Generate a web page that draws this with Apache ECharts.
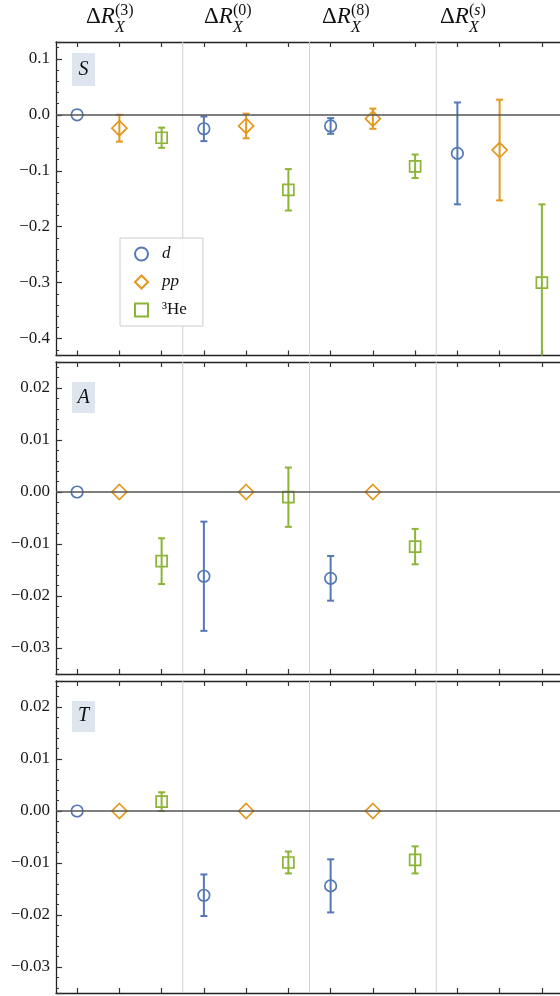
<!DOCTYPE html>
<html><head><meta charset="utf-8">
<script src="https://cdn.jsdelivr.net/npm/echarts@6/dist/echarts.min.js"></script>
<style>html,body{margin:0;padding:0;background:#fff;overflow:hidden;width:560px;height:996px}#c{width:566px;height:996px}</style>
</head><body><div id="c"></div>
<script>
// ---- data ----
const groupSup = ['3', '0', '8', 's'];          // ΔR_X^(…)
const species = ['d', 'pp', '3He'];
const panelNames = ['S', 'A', 'T'];

// S panel (index = operator group 0..3)
const S_d      = [0, -0.025, -0.020, -0.069];
const S_d_err  = [0, 0.022, 0.014, 0.091];
const S_pp     = [-0.024, -0.020, -0.007, -0.063];
const S_pp_err = [0.024, 0.022, 0.018, 0.090];
const S_he     = [-0.041, -0.134, -0.092, -0.300];
const S_he_err = [0.018, 0.037, 0.021, 0.140];
// A panel
const A_d      = [0, -0.0162, -0.0166, null];
const A_d_err  = [0, 0.0105, 0.0043, null];
const A_pp     = [0, 0, 0, null];
const A_pp_err = [0, 0, 0, null];
const A_he     = [-0.0133, -0.0010, -0.0105, null];
const A_he_err = [0.0044, 0.0057, 0.0034, null];
// T panel
const T_d      = [0, -0.0162, -0.0144, null];
const T_d_err  = [0, 0.0040, 0.0051, null];
const T_pp     = [0, 0, 0, null];
const T_pp_err = [0, 0, 0, null];
const T_he     = [0.0018, -0.0099, -0.0094, null];
const T_he_err = [0.0018, 0.0021, 0.0026, null];

const yRangeS  = [-0.43, 0.13];
const yRangeAT = [-0.035, 0.025];
const yStepS = 0.1, yStepAT = 0.01;
const yDecS = 1, yDecAT = 2;

// ---- style ----
const FONT = 'Liberation Serif';
const colors = ['#5478b6', '#e4981f', '#8ab536'];
const symbols = ['circle', 'diamond', 'rect'];
const symSizes = [11.5, 15, 11];

const xCategories = [];
groupSup.forEach(g => species.forEach(s => xCategories.push(g + ':' + s)));

const panelData = [
  [[S_d, S_d_err], [S_pp, S_pp_err], [S_he, S_he_err]],
  [[A_d, A_d_err], [A_pp, A_pp_err], [A_he, A_he_err]],
  [[T_d, T_d_err], [T_pp, T_pp_err], [T_he, T_he_err]]
];
const ranges = [yRangeS, yRangeAT, yRangeAT];
const steps = [yStepS, yStepAT, yStepAT];
const decs = [yDecS, yDecAT, yDecAT];

const grids = [
  {left: 56, top: 42, width: 507, height: 313.5},
  {left: 56, top: 362, width: 507, height: 312},
  {left: 56, top: 681, width: 507, height: 312}
];

const xAxes = [], yAxes = [], series = [];
function xAx(p, pos) {
  return {
    type: 'category', gridIndex: p, data: xCategories, position: pos, boundaryGap: true,
    axisLine: {show: true, onZero: false, lineStyle: {color: '#222', width: 1.3}},
    axisTick: {show: true, inside: true, alignWithLabel: true, interval: 0, length: 5, lineStyle: {color: '#333', width: 1.2}},
    axisLabel: {show: false, interval: 0}, splitLine: {show: false}
  };
}
for (let p = 0; p < 3; p++) {
  xAxes.push(xAx(p, 'bottom'));
  xAxes.push(xAx(p, 'top'));
  const step = steps[p], dec = decs[p];
  yAxes.push({
    type: 'value', gridIndex: p, min: ranges[p][0], max: ranges[p][1], position: 'left',
    axisLine: {show: true, onZero: false, lineStyle: {color: '#222', width: 1.3}},
    axisTick: {show: true, inside: true, length: 6, lineStyle: {color: '#333', width: 1.2}},
    minorTick: {show: true, splitNumber: 5, length: 3, lineStyle: {color: '#333', width: 1}},
    splitLine: {show: false},
    axisLabel: {
      fontFamily: FONT, fontSize: 17, color: '#1a1a1a', margin: 6,
      formatter: v => {
        const r = v / step;
        if (Math.abs(r - Math.round(r)) > 1e-6) return '';
        const s = Math.abs(v).toFixed(dec);
        return (v < -1e-9 ? '\u2212' : '') + s;
      }
    }
  });

  // separators between operator groups
  series.push({
    type: 'custom', xAxisIndex: p * 2, yAxisIndex: p, z: 1, silent: true,
    data: [[2], [5], [8]],
    encode: {x: 0},
    renderItem(params, api) {
      const i = api.value(0);
      const cs = params.coordSys;
      const x = (api.coord([i, 0])[0] + api.coord([i + 1, 0])[0]) / 2;
      return {type: 'line', shape: {x1: x, y1: cs.y, x2: x, y2: cs.y + cs.height},
        style: {stroke: '#cfcfcf', lineWidth: 1}};
    }
  });

  for (let s = 0; s < 3; s++) {
    const [vals, errs] = panelData[p][s];
    const pts = [], bars = [];
    vals.forEach((v, g) => {
      if (v === null) return;
      pts.push([g * 3 + s, v]);
      if (errs[g] > 0) bars.push([g * 3 + s, v, errs[g]]);
    });
    const col = colors[s];
    series.push({
      type: 'custom', xAxisIndex: p * 2, yAxisIndex: p, z: 3, silent: true,
      data: bars, encode: {x: 0, y: 1},
      renderItem(params, api) {
        const cs = params.coordSys;
        const x = api.value(0), y = api.value(1), e = api.value(2);
        const t = api.coord([x, y + e]), b = api.coord([x, y - e]);
        const cw = 3.5;
        const ch = [];
        const yt = Math.max(t[1], cs.y), yb = Math.min(b[1], cs.y + cs.height);
        ch.push({type: 'line', shape: {x1: t[0], y1: yt, x2: t[0], y2: yb}, style: {stroke: col, lineWidth: 2}});
        if (t[1] >= cs.y) ch.push({type: 'line', shape: {x1: t[0] - cw, y1: t[1], x2: t[0] + cw, y2: t[1]}, style: {stroke: col, lineWidth: 2}});
        if (b[1] <= cs.y + cs.height) ch.push({type: 'line', shape: {x1: b[0] - cw, y1: b[1], x2: b[0] + cw, y2: b[1]}, style: {stroke: col, lineWidth: 2}});
        return {type: 'group', children: ch};
      }
    });
    const sc = {
      type: 'scatter', name: species[s], xAxisIndex: p * 2, yAxisIndex: p, z: 4,
      symbol: symbols[s], symbolSize: symSizes[s], data: pts, silent: true,
      itemStyle: {color: 'rgba(255,255,255,0)', borderColor: col, borderWidth: 1.7, opacity: 1},
      emphasis: {disabled: true}
    };
    if (s === 0) {
      sc.markLine = {
        silent: true, symbol: ['none', 'none'], label: {show: false}, animation: false,
        lineStyle: {color: '#555', width: 1.5, type: 'solid'},
        emphasis: {disabled: true},
        data: [{yAxis: 0}]
      };
    }
    series.push(sc);
  }
}

// titles and panel labels (text layout)
const graphic = [];
const titleLeft = [86, 204, 322, 440];
groupSup.forEach((g, i) => {
  const x = titleLeft[i];
  graphic.push({type: 'text', left: x, top: 5, style: {
    text: '{a|\u0394}{b|R}', rich: {a: {fontFamily: FONT, fontSize: 23, fill: '#111'}, b: {fontFamily: FONT, fontSize: 23, fontStyle: 'italic', fill: '#111'}}}});
  graphic.push({type: 'text', left: x + 29, top: 20, style: {text: 'X', fontFamily: FONT, fontSize: 16, fontStyle: 'italic', fill: '#111'}});
  const supTxt = g === 's' ? '({i|s})' : '(' + g + ')';
  graphic.push({type: 'text', left: x + 29, top: 3, style: {text: supTxt, fontFamily: FONT, fontSize: 16, fill: '#111',
    rich: {i: {fontFamily: FONT, fontSize: 16, fontStyle: 'italic', fill: '#111'}}}});
});
const labelBoxes = [[72, 53, 33, 70], [72, 382, 31, 397.5], [72, 701, 31, 716]];
panelNames.forEach((n, i) => {
  const [bx, by, bh, ty] = labelBoxes[i];
  graphic.push({type: 'rect', shape: {x: bx, y: by, width: 23, height: bh}, style: {fill: '#dfe5ef'}, z: 5});
  graphic.push({type: 'text', x: bx + 11.5, y: ty, z: 6, style: {text: n, fontFamily: FONT, fontSize: 20, fontStyle: 'italic',
    fill: '#111', align: 'center', verticalAlign: 'middle'}});
});

const chart = echarts.init(document.getElementById('c'), null, {renderer: 'canvas'});
chart.setOption({
  animation: false,
  backgroundColor: '#fff',
  grid: grids,
  xAxis: xAxes,
  yAxis: yAxes,
  legend: {
    show: true, orient: 'vertical', left: 120, top: 238, selectedMode: false,
    itemWidth: 13, itemHeight: 13, itemGap: 11, padding: [7.5, 16, 7.5, 14],
    borderColor: '#cccccc', borderWidth: 1, backgroundColor: 'rgba(255,255,255,0.9)',
    data: species,
    formatter: n => n === 'd' ? '{i|d}' : n === 'pp' ? '{i|pp}' : '{n|\u00b3He}',
    textStyle: {fontFamily: FONT, fontSize: 17, color: '#111', padding: [0, 0, 0, 9],
      rich: {
        i: {fontFamily: FONT, fontSize: 17, fontStyle: 'italic', color: '#111'},
        n: {fontFamily: FONT, fontSize: 17, color: '#111'}
      }}
  },
  graphic: graphic,
  series: series
});
</script></body></html>
